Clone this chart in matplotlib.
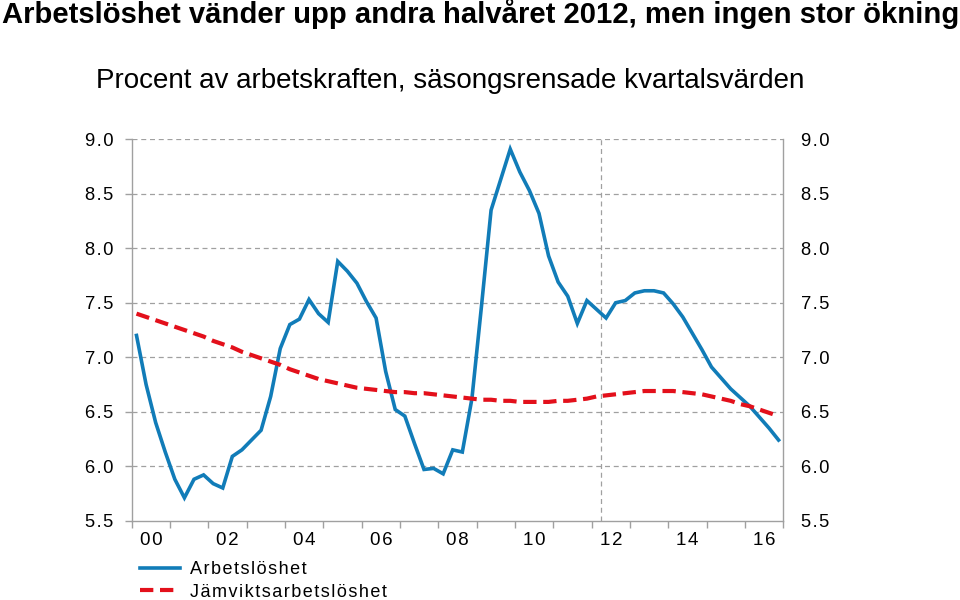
import numpy as np
import matplotlib
matplotlib.use("Agg")
import matplotlib.pyplot as plt
from matplotlib.ticker import FixedLocator, NullFormatter

plt.rcParams["font.family"] = ["Liberation Sans", "DejaVu Sans"]

# kvartal 2000Q1 .. 2016Q4
first_year = 2000
n_quarters = 68

arbetsloshet = [
    7.20, 6.75, 6.40, 6.13, 5.88, 5.71, 5.88, 5.92, 5.84, 5.80,
    6.09, 6.15, 6.24, 6.33, 6.64, 7.08, 7.30, 7.35, 7.53, 7.40,
    7.32, 7.88, 7.79, 7.68, 7.51, 7.36, 6.87, 6.52, 6.46, 6.21,
    5.97, 5.98, 5.93, 6.15, 6.13, 6.62, 7.47, 8.35, 8.63, 8.91,
    8.70, 8.53, 8.32, 7.93, 7.69, 7.56, 7.31, 7.52, 7.44, 7.36,
    7.50, 7.52, 7.59, 7.61, 7.61, 7.59, 7.49, 7.37, 7.22, 7.07,
    6.91, 6.81, 6.71, 6.63, 6.55, 6.45, 6.35, 6.24,
]

jamvikt = [
    7.40, 7.37, 7.34, 7.31, 7.28, 7.25, 7.22, 7.19, 7.15, 7.12,
    7.09, 7.05, 7.02, 6.99, 6.96, 6.93, 6.89, 6.86, 6.83, 6.80,
    6.78, 6.76, 6.74, 6.72, 6.71, 6.70, 6.69, 6.68, 6.68, 6.67,
    6.67, 6.66, 6.65, 6.64, 6.63, 6.62, 6.61, 6.61, 6.60, 6.60,
    6.59, 6.59, 6.59, 6.59, 6.60, 6.60, 6.61, 6.62, 6.64, 6.65,
    6.66, 6.67, 6.68, 6.69, 6.69, 6.69, 6.69, 6.68, 6.67, 6.66,
    6.64, 6.62, 6.60, 6.57, 6.55, 6.52, 6.49, 6.46,
]

year_labels = ["00", "02", "04", "06", "08", "10", "12", "14", "16"]
y_ticks = [5.5, 6.0, 6.5, 7.0, 7.5, 8.0, 8.5, 9.0]
prognos_start = 2012.25

title = "Arbetslöshet vänder upp andra halvåret 2012, men ingen stor ökning"
subtitle = "Procent av arbetskraften, säsongsrensade kvartalsvärden"
series_names = ["Arbetslöshet", "Jämviktsarbetslöshet"]

blue = "#117cb8"
red = "#e3101b"
grey = "#a0a0a0"


def spaced(s):
    # lite extra teckenavstånd som i originalet
    return "\u200a".join(s)


# kvartalets mitt
x = first_year + (np.arange(n_quarters) + 0.5) / 4

fig = plt.figure(figsize=(9.6, 6), dpi=100)
ax = fig.add_axes([0.1372, 0.1322, 0.6788, 0.6356])

l1, = ax.plot(x, arbetsloshet, color=blue, lw=2.6, solid_joinstyle="miter")
l2, = ax.plot(x, jamvikt, color=red, lw=3.0, dashes=(3.2, 1.6))

ax.set_xlim(2000, 2017)
ax.set_ylim(5.5, 9.0)

ax.axvline(prognos_start, color=grey, lw=0.9, ls=(0, (4, 3)), zorder=0)
for v in y_ticks[1:]:
    ax.axhline(v, color=grey, lw=0.9, ls=(0, (4, 3)), zorder=0)

for side in ["left", "right", "bottom"]:
    ax.spines[side].set_color(grey)
    ax.spines[side].set_linewidth(1.0)
ax.spines["top"].set_visible(False)

# år: streck vid årsgränser, etiketter mitt i åren
ax.xaxis.set_major_locator(FixedLocator(np.arange(2000, 2018)))
ax.xaxis.set_major_formatter(NullFormatter())
ax.xaxis.set_minor_locator(FixedLocator(np.arange(2000.5, 2017, 2)))
ax.set_xticklabels([spaced(s) for s in year_labels], minor=True)
ax.tick_params(axis="x", which="major", length=5, color=grey, width=1)
ax.tick_params(axis="x", which="minor", length=0, labelsize=13.5, pad=8)

ax.set_yticks(y_ticks)
ax.set_yticklabels([spaced(f"{v:.1f}") for v in y_ticks])
ax.tick_params(axis="y", which="major", length=5, color=grey, width=1,
               labelsize=13.2, left=True, right=False,
               labelleft=True, labelright=True, pad=8)

fig.text(0.002, 0.977, title, fontsize=21.1, fontweight="bold",
         ha="left", va="center")
fig.text(0.1, 0.865, subtitle, fontsize=20, ha="left", va="center")

fig.legend([l1, l2], [spaced(s) for s in series_names],
           loc="upper left", bbox_to_anchor=(0.146, 0.065),
           frameon=False, fontsize=13, handlelength=2.2,
           handletextpad=0.55, labelspacing=0.32, borderaxespad=0,
           borderpad=0)

fig.savefig("out.png", dpi=100)
